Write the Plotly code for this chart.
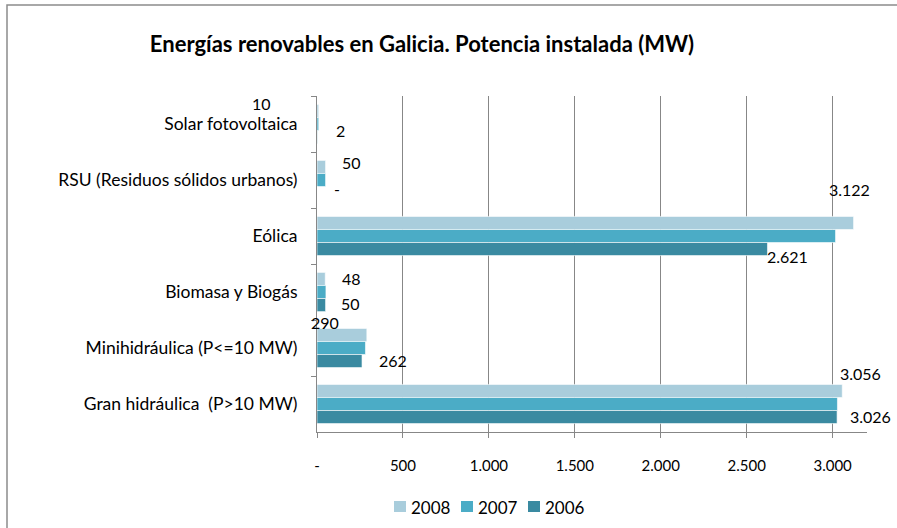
import plotly.graph_objects as go

# categories, top to bottom as in the chart
categories = [
    "Solar fotovoltaica",
    "RSU (Residuos sólidos urbanos)",
    "Eólica",
    "Biomasa y Biogás",
    "Minihidráulica (P<=10 MW)",
    "Gran hidráulica  (P>10 MW)",
]
years = ["2008", "2007", "2006"]
values_2008 = [10, 50, 3122, 48, 290, 3056]
values_2007 = [10, 50, 3017, 52, 282, 3028]
values_2006 = [2, 0, 2621, 50, 262, 3026]
labels_2008 = ["10", "50", "3.122", "48", "290", "3.056"]
labels_2006 = ["2", "-", "2.621", "50", "262", "3.026"]

x_tickvals = [0, 500, 1000, 1500, 2000, 2500, 3000]
x_ticktext = ["-", "500", "1.000", "1.500", "2.000", "2.500", "3.000"]

colors = {"2008": "#A9CDDC", "2007": "#4BACC6", "2006": "#3A8AA1"}
series = {"2008": values_2008, "2007": values_2007, "2006": values_2006}

# label offsets in px (Excel put them in odd places)
shift_2008 = [(-57, 21), (26, 18), (-4, 47), (26, 14), (-42, 26), (18, 31)]
shift_2006 = [(23, -6), (20, -8), (20, -20), (25, -11), (31, -12), (33, -12)]

FONT = "Lato, 'Open Sans', sans-serif"
W, H = 897, 528
L, R, T, B = 317, 30, 96, 96

fig = go.Figure()
for y in years:
    fig.add_trace(go.Bar(
        y=categories, x=series[y], orientation="h", name=y, showlegend=False,
        marker=dict(color=colors[y], line=dict(color="rgba(255,255,255,0.6)", width=1)),
    ))

annotations = []
for vals, labs, shifts in [(values_2008, labels_2008, shift_2008),
                           (values_2006, labels_2006, shift_2006)]:
    for cat, v, lab, (dx, dy) in zip(categories, vals, labs, shifts):
        annotations.append(dict(
            x=v, y=cat, xref="x", yref="y", text=lab, showarrow=False,
            xanchor="center", yanchor="middle", xshift=dx, yshift=dy,
            font=dict(family=FONT, size=16, color="#000000"),
        ))

pw, ph = W - L - R, H - T - B
def px_x(p):
    return (p - L) / pw
def px_y(p):
    return (H - B - p) / ph

shapes = [dict(type="rect", xref="paper", yref="paper",
               x0=px_x(7), x1=px_x(910), y0=px_y(540), y1=px_y(5),
               line=dict(color="#8C8C8C", width=1.5), layer="below")]

# hand-built legend, Excel packs the entries tightly
for i, y in enumerate(years):
    x0 = 394 + i * 67
    shapes.append(dict(type="rect", xref="paper", yref="paper",
                       x0=px_x(x0), x1=px_x(x0 + 12), y0=px_y(512), y1=px_y(501),
                       fillcolor=colors[y], line=dict(width=0)))
    annotations.append(dict(x=px_x(x0 + 15), y=px_y(507), xref="paper", yref="paper",
                            text=y, showarrow=False, xanchor="left", yanchor="middle",
                            font=dict(family=FONT, size=17, color="#000000")))

fig.update_layout(
    width=W, height=H,
    margin=dict(l=L, r=R, t=T, b=B),
    paper_bgcolor="white", plot_bgcolor="white",
    barmode="group", bargap=0.3, bargroupgap=0,
    title=dict(text="<b>Energías renovables en Galicia. Potencia instalada (MW)</b>",
               x=px_x(422), xref="paper", xanchor="center",
               y=1 - 44 / H, yanchor="middle",
               font=dict(family=FONT, size=22, color="#000000")),
    font=dict(family=FONT, size=15, color="#000000"),
    xaxis=dict(range=[0, 3200], tickvals=x_tickvals, ticktext=x_ticktext,
               showgrid=True, gridcolor="#878787", gridwidth=1,
               showline=True, linecolor="#878787", linewidth=1,
               ticks="outside", ticklen=5, tickcolor="#878787",
               ticklabelstandoff=15, zeroline=False,
               tickfont=dict(family=FONT, size=15, color="#000000")),
    yaxis=dict(range=[5.5, -0.5], showgrid=False,
               showline=True, linecolor="#878787", linewidth=1,
               ticks="outside", ticklen=5, tickcolor="#878787",
               tickson="boundaries", ticklabelstandoff=15,
               tickfont=dict(family=FONT, size=17.5, color="#000000")),
    annotations=annotations,
    shapes=shapes,
    showlegend=False,
)

fig.write_html("out.html", config={"displayModeBar": False},
               post_script="document.body.style.margin = '0';")
